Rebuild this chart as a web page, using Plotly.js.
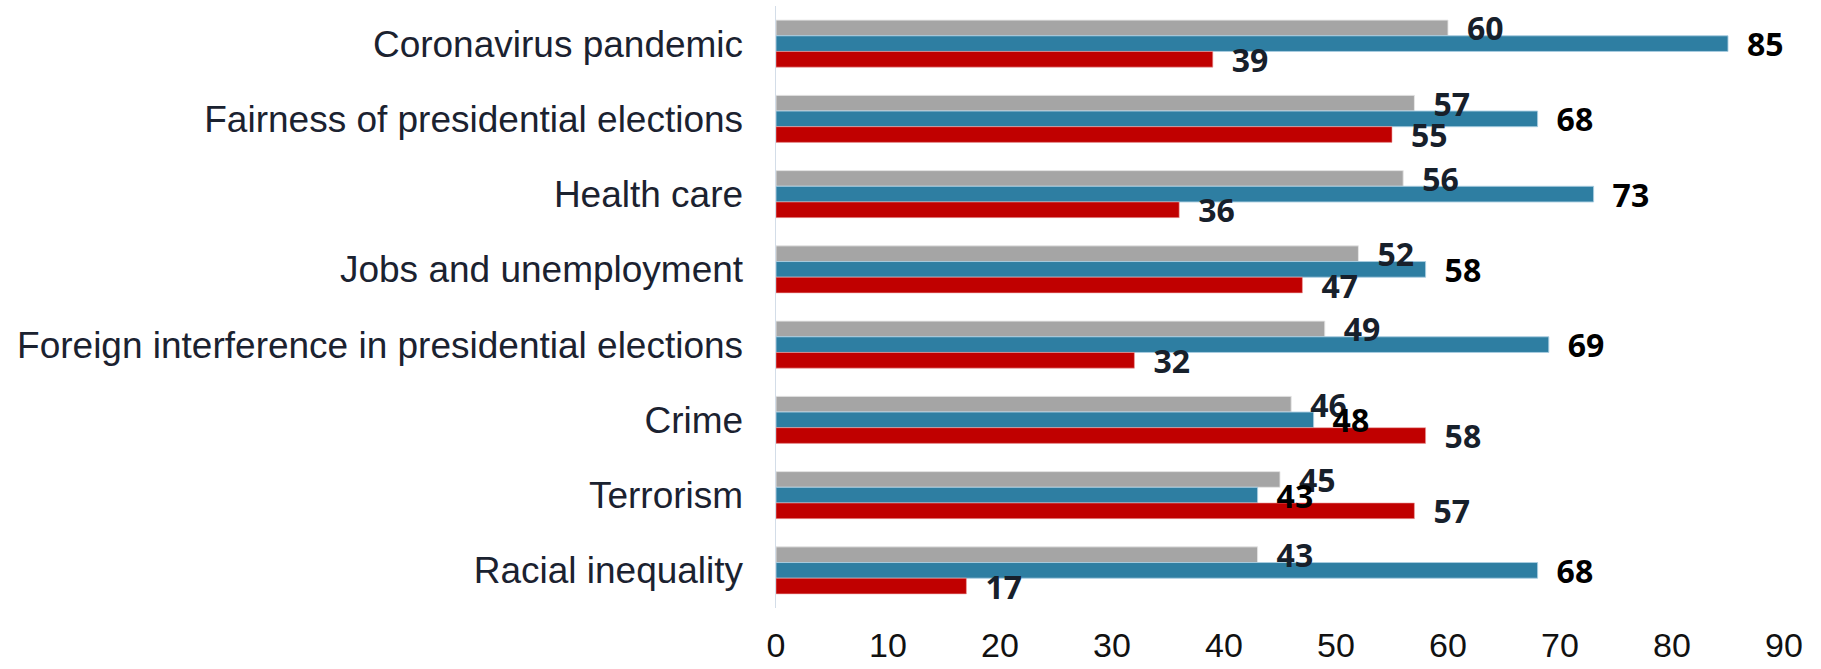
<!DOCTYPE html>
<html>
<head>
<meta charset="utf-8">
<script src="https://cdn.plot.ly/plotly-3.0.1.min.js"></script>
<style>
  html, body { margin: 0; padding: 0; background: #ffffff; }
  #chart { width: 1821px; height: 669px; }
</style>
</head>
<body>
<div id="chart"></div>
<script>
const categories = [
  "Coronavirus pandemic",
  "Fairness of presidential elections",
  "Health care",
  "Jobs and unemployment",
  "Foreign interference in presidential elections",
  "Crime",
  "Terrorism",
  "Racial inequality"
];
const grayValues = [60, 57, 56, 52, 49, 46, 45, 43];
const blueValues = [85, 68, 73, 58, 69, 48, 43, 68];
const redValues  = [39, 55, 36, 47, 32, 58, 57, 17];
const xTickValues = [0, 10, 20, 30, 40, 50, 60, 70, 80, 90];

function barSeries(values, group, color, lineColor) {
  return {
    type: 'bar',
    orientation: 'h',
    y: categories,
    x: values,
    offsetgroup: group,
    marker: { color: color, line: { color: lineColor, width: 1 } },
    hoverinfo: 'x+y'
  };
}

function labelSeries(values, group, textColor) {
  return {
    type: 'bar',
    orientation: 'h',
    y: categories,
    x: values,
    offsetgroup: group,
    marker: { color: 'rgba(0,0,0,0)', line: { width: 0 } },
    texttemplate: '\u2002%{x}',
    textposition: 'outside',
    textfont: { family: 'Open Sans, sans-serif', size: 32, color: textColor, weight: 'bold' },
    constraintext: 'none',
    cliponaxis: false,
    hoverinfo: 'skip'
  };
}

const data = [
  barSeries(grayValues, 'gray', '#a5a5a5', 'rgba(230,230,230,0.9)'),
  barSeries(blueValues, 'blue', '#2e7ea2', 'rgba(170,205,225,0.9)'),
  barSeries(redValues, 'red', '#c00000', 'rgba(235,160,160,0.6)'),
  labelSeries(grayValues, 'gray', '#17202b'),
  labelSeries(blueValues, 'blue', '#000000'),
  labelSeries(redValues, 'red', '#17202b')
];

const layout = {
  width: 1821,
  height: 669,
  margin: { l: 776, r: 37, t: 6, b: 61, pad: 0 },
  paper_bgcolor: '#ffffff',
  plot_bgcolor: '#ffffff',
  showlegend: false,
  barmode: 'group',
  bargap: 0.375,
  bargroupgap: 0,
  xaxis: {
    range: [0, 90],
    tickvals: xTickValues,
    showgrid: false,
    zeroline: false,
    showline: false,
    ticks: '',
    ticklabelstandoff: 14,
    tickfont: { family: 'Liberation Sans, Arial, sans-serif', size: 34, color: '#111111' }
  },
  yaxis: {
    type: 'category',
    autorange: 'reversed',
    showgrid: false,
    zeroline: false,
    showline: true,
    linecolor: '#d3dde8',
    linewidth: 1.5,
    ticks: '',
    ticklabelstandoff: 24,
    tickfont: { family: 'Liberation Sans, Arial, sans-serif', size: 37, color: '#1b2230' }
  }
};

Plotly.newPlot('chart', data, layout, { displayModeBar: false, staticPlot: true });
</script>
</body>
</html>
